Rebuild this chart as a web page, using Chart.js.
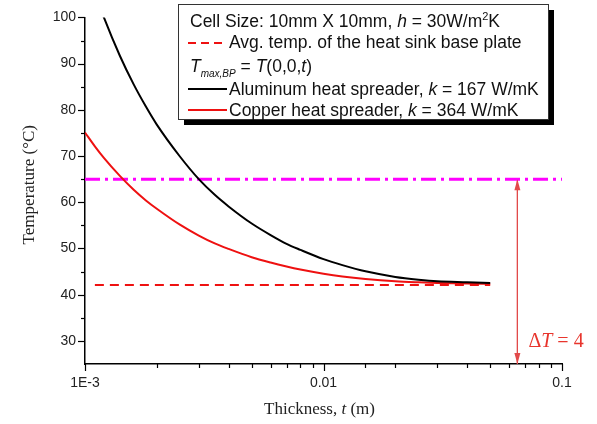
<!DOCTYPE html>
<html>
<head>
<meta charset="utf-8">
<script src="https://cdn.jsdelivr.net/npm/chart.js@4/dist/chart.umd.min.js"></script>
<style>
  html, body { margin: 0; padding: 0; background: #fff; }
  #wrap { width: 597px; height: 424px; }
</style>
</head>
<body>
<div id="wrap"><canvas id="tempChart" width="597" height="424"></canvas></div>
<script>
/* ── data ── */
const thickness = [0.001, 0.0011, 0.0012, 0.0014, 0.0016, 0.0018, 0.002, 0.0025, 0.003, 0.0035,
                   0.004, 0.005, 0.006, 0.007, 0.008, 0.01, 0.012, 0.015, 0.02, 0.025, 0.03, 0.04, 0.05];
const aluminumT = [111.6, 105.3, 100, 91.7, 85.5, 80.7, 76.8, 69.9, 65.0, 61.6,
                   59.1, 55.4, 52.9, 51.0, 49.7, 47.7, 46.4, 45.05, 43.85, 43.25, 42.9, 42.7, 42.55];
const copperT   = [75.1, 72.1, 69.6, 65.7, 62.7, 60.4, 58.6, 55.15, 52.8, 51.1,
                   49.9, 48.1, 46.95, 46.1, 45.45, 44.55, 43.95, 43.4, 42.9, 42.68, 42.55, 42.42, 42.35];
const baseSpan  = [0.0011, 0.05];   // avg. base plate temperature line
const baseTemp  = 42.1;
const limitSpan = [0.001, 0.1];     // magenta limit line
const limitTemp = 65;
const deltaX    = 0.065;            // ΔT arrow position
const deltaSpan = [65, 25];
const xTickLabels = { '-3': '1E-3', '-2': '0.01', '-1': '0.1' };
const yRange = [25, 100];

const RED = '#ee1111';
const ARROW = '#e24a4a';

/* ── small helper: draw a run of differently styled text pieces ── */
function drawRich(ctx, x, y, parts) {
  parts.forEach(p => {
    ctx.font = p.f;
    ctx.fillText(p.t, x, y + (p.dy || 0));
    x += ctx.measureText(p.t).width;
  });
}

const SANS = "'Liberation Sans', Arial, sans-serif";
const SERIF = "'Liberation Serif', 'Times New Roman', serif";

const decor = {
  id: 'decor',
  afterDraw(chart) {
    const ctx = chart.ctx;
    const xs = chart.scales.x, ys = chart.scales.y;
    const area = chart.chartArea;
    ctx.save();

    /* tick marks, outward */
    ctx.strokeStyle = '#000';
    ctx.lineWidth = 1.2;
    xs.ticks.forEach(t => {
      const lg = Math.log10(t.value);
      const major = Math.abs(lg - Math.round(lg)) < 1e-9;
      const px = Math.round(xs.getPixelForValue(t.value)) + 0.5;
      ctx.beginPath();
      ctx.moveTo(px, area.bottom);
      ctx.lineTo(px, area.bottom + (major ? 7 : 4));
      ctx.stroke();
    });
    ys.ticks.forEach(t => {
      if (t.value <= yRange[0]) return;
      const major = t.value % 10 === 0;
      const py = Math.round(ys.getPixelForValue(t.value)) + 0.5;
      ctx.beginPath();
      ctx.moveTo(area.left, py);
      ctx.lineTo(area.left - (major ? 7 : 4), py);
      ctx.stroke();
    });

    /* arrow heads on the ΔT line */
    const pts = chart.getDatasetMeta(4).data;
    if (pts.length === 2) {
      ctx.fillStyle = ARROW;
      [[pts[0], pts[1]], [pts[1], pts[0]]].forEach(([tip, other]) => {
        const dir = Math.sign(tip.y - other.y);
        ctx.beginPath();
        ctx.moveTo(tip.x, tip.y);
        ctx.lineTo(tip.x - 3, tip.y - dir * 11);
        ctx.lineTo(tip.x + 3, tip.y - dir * 11);
        ctx.closePath();
        ctx.fill();
      });
      ctx.fillStyle = '#e8352d';
      ctx.textBaseline = 'alphabetic';
      drawRich(ctx, pts[0].x + 11, ys.getPixelForValue(deltaSpan[1]) - 17, [
        { t: 'Δ', f: `20px ${SERIF}` },
        { t: 'T', f: `italic 20px ${SERIF}` },
        { t: ' = 4', f: `20px ${SERIF}` },
      ]);
    }

    /* axis titles */
    ctx.fillStyle = '#222';
    ctx.textBaseline = 'middle';
    ctx.font = `17px ${SERIF}`;
    ctx.save();
    ctx.translate(30, (area.top + area.bottom) / 2 - 6);
    ctx.rotate(-Math.PI / 2);
    ctx.textAlign = 'center';
    ctx.fillText('Temperature (°C)', 0, 0);
    ctx.restore();

    ctx.textAlign = 'left';
    ctx.textBaseline = 'alphabetic';
    const xParts = [
      { t: 'Thickness, ', f: `17px ${SERIF}` },
      { t: 't', f: `italic 17px ${SERIF}` },
      { t: ' (m)', f: `17px ${SERIF}` },
    ];
    let w = 0;
    xParts.forEach(p => { ctx.font = p.f; w += ctx.measureText(p.t).width; });
    drawRich(ctx, (area.left + area.right) / 2 - w / 2 - 4, 414, xParts);

    /* legend box with shadow */
    const bx = 178, by = 4, bw = 370, bh = 115;
    ctx.fillStyle = '#000';
    ctx.fillRect(bx + 6, by + 6, bw, bh);
    ctx.fillStyle = '#fff';
    ctx.fillRect(bx, by, bw, bh);
    ctx.strokeStyle = '#333';
    ctx.lineWidth = 1;
    ctx.strokeRect(bx + 0.5, by + 0.5, bw, bh);

    ctx.fillStyle = '#111';
    const f = `17.5px ${SANS}`, fi = `italic 17.5px ${SANS}`;
    drawRich(ctx, 190, 27, [
      { t: 'Cell Size: 10mm X 10mm, ', f },
      { t: 'h', f: fi },
      { t: ' = 30W/m', f },
      { t: '2', f: `11px ${SANS}`, dy: -7 },
      { t: 'K', f },
    ]);
    drawRich(ctx, 229, 48, [{ t: 'Avg. temp. of the heat sink base plate', f }]);
    drawRich(ctx, 190, 72, [
      { t: 'T', f: fi },
      { t: 'max,BP', f: `italic 10px ${SANS}`, dy: 5 },
      { t: ' = ', f },
      { t: 'T', f: fi },
      { t: '(0,0,', f },
      { t: 't', f: fi },
      { t: ')', f },
    ]);
    drawRich(ctx, 229, 95, [
      { t: 'Aluminum heat spreader, ', f },
      { t: 'k', f: fi },
      { t: ' = 167 W/mK', f },
    ]);
    drawRich(ctx, 229, 116, [
      { t: 'Copper heat spreader, ', f },
      { t: 'k', f: fi },
      { t: ' = 364 W/mK', f },
    ]);

    /* legend line samples */
    const sample = (y, color, dash) => {
      ctx.strokeStyle = color;
      ctx.lineWidth = 2;
      ctx.setLineDash(dash);
      ctx.beginPath();
      ctx.moveTo(188, y);
      ctx.lineTo(227, y);
      ctx.stroke();
    };
    sample(43, RED, [8, 5]);
    sample(89, '#000', []);
    sample(110, RED, []);
    ctx.setLineDash([]);
    ctx.restore();
  },
};

const pairs = (xsArr, ysArr) => xsArr.map((x, i) => ({ x, y: ysArr[i] }));

new Chart(document.getElementById('tempChart'), {
  type: 'line',
  data: {
    datasets: [
      {
        label: 'Aluminum',
        data: pairs(thickness, aluminumT),
        borderColor: '#000', borderWidth: 2, pointRadius: 0, cubicInterpolationMode: 'monotone',
      },
      {
        label: 'Copper',
        data: pairs(thickness, copperT),
        borderColor: RED, borderWidth: 2, pointRadius: 0, cubicInterpolationMode: 'monotone',
      },
      {
        label: 'Avg. base plate',
        data: baseSpan.map(x => ({ x, y: baseTemp })),
        borderColor: RED, borderWidth: 2.2, borderDash: [9, 6], pointRadius: 0,
      },
      {
        label: 'Limit',
        data: limitSpan.map(x => ({ x, y: limitTemp })),
        borderColor: '#ff00ff', borderWidth: 3, borderDash: [15, 5, 3, 5], pointRadius: 0,
      },
      {
        label: 'Delta T',
        data: deltaSpan.map(y => ({ x: deltaX, y })),
        borderColor: ARROW, borderWidth: 1, pointRadius: 0,
      },
    ],
  },
  options: {
    responsive: false,
    animation: false,
    events: [],
    layout: { padding: { left: 0, top: 14, right: 35, bottom: 0 } },
    plugins: { legend: { display: false }, tooltip: { enabled: false } },
    scales: {
      x: {
        type: 'logarithmic',
        min: 0.001, max: 0.1,
        grid: { display: false, drawTicks: false },
        border: { display: true, color: '#000', width: 1.5 },
        afterFit: s => { s.height = 60; },
        ticks: {
          autoSkip: false, maxRotation: 0, padding: 11,
          color: '#222', font: { family: SANS, size: 14 },
          callback: v => {
            const lg = Math.log10(v);
            return Math.abs(lg - Math.round(lg)) < 1e-9 ? (xTickLabels[Math.round(lg)] || '') : '';
          },
        },
      },
      y: {
        min: yRange[0], max: yRange[1],
        grid: { display: false, drawTicks: false },
        border: { display: true, color: '#000', width: 1.5 },
        afterFit: s => { s.width = 85; },
        ticks: {
          stepSize: 5, padding: 9,
          color: '#222', font: { family: SANS, size: 14 },
          callback: v => (v % 10 === 0 ? v : ''),
        },
      },
    },
  },
  plugins: [decor],
});
</script>
</body>
</html>
